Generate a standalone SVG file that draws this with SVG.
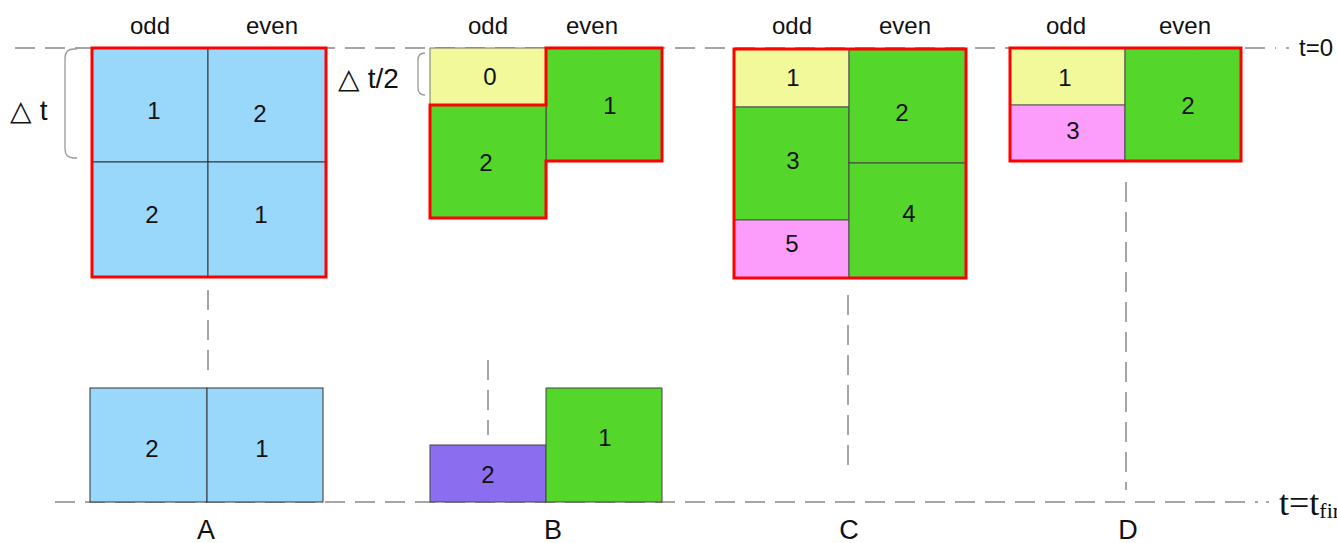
<svg xmlns="http://www.w3.org/2000/svg" width="1337" height="543" viewBox="0 0 1337 543">
  <style>
    .lbl { font-family: "Liberation Sans", Arial, sans-serif; font-size: 24px; fill: #111; text-anchor: middle; }
    .hdr { font-family: "Liberation Sans", Arial, sans-serif; font-size: 24px; fill: #111; text-anchor: middle; }
    .cap { font-family: "Liberation Sans", Arial, sans-serif; font-size: 27px; fill: #111; text-anchor: middle; }
    .blue { fill: #99d7fb; stroke: #333; stroke-width: 1; }
    .green { fill: #55d62a; stroke: #444; stroke-width: 1; }
    .yellow { fill: #f2f99b; stroke: #777; stroke-width: 1; }
    .pink { fill: #fd9dfb; stroke: #555; stroke-width: 1; }
    .purple { fill: #8b6def; stroke: #444; stroke-width: 1; }
    .outline { fill: none; stroke: #ff0000; stroke-width: 3; stroke-linejoin: miter; }
    .dash { fill: none; stroke: #888; stroke-width: 1.5; stroke-dasharray: 20 10; }
    .vdash { fill: none; stroke: #777; stroke-width: 1.3; stroke-dasharray: 20 10; }
    .brace { fill: none; stroke: #999; stroke-width: 1.3; }
  </style>

  <!-- time axis lines -->
  <g id="connectors">
    <line class="dash" x1="15" y1="48" x2="1276" y2="48"/>
    <line class="dash" x1="1286" y1="48" x2="1289" y2="48"/>
    <line class="dash" x1="55" y1="502" x2="1258" y2="502"/>
    <line class="dash" x1="1266" y1="502" x2="1269" y2="502"/>
    <line class="vdash" x1="208" y1="290" x2="208" y2="372"/>
    <line class="vdash" x1="488" y1="360" x2="488" y2="435"/>
    <line class="vdash" x1="848" y1="295" x2="848" y2="470"/>
    <line class="vdash" x1="1126" y1="182" x2="1126" y2="490"/>
  </g>

  <text x="1299" y="56" font-family="Liberation Sans, Arial, sans-serif" font-size="24" fill="#111">t=0</text>
  <text x="1279" y="515" font-family="Liberation Serif, Times New Roman, serif" font-size="36" fill="#111">t=t<tspan font-size="22" dy="3">fin</tspan></text>

  <!-- column A -->
  <g id="A">
    <text class="hdr" x="150" y="34">odd</text>
    <text class="hdr" x="272" y="34">even</text>
    <path class="brace" d="M77,49 H74 Q65,49 65,58 V149 Q65,158 74,158 H77"/>
    <text x="10" y="120" font-family="Liberation Sans, Arial, sans-serif" font-size="28" fill="#111">△ t</text>
    <rect class="blue" x="92" y="48" width="116" height="114"/>
    <rect class="blue" x="208" y="48" width="118" height="114"/>
    <rect class="blue" x="92" y="162" width="116" height="115"/>
    <rect class="blue" x="208" y="162" width="118" height="115"/>
    <rect class="outline" x="92" y="48" width="234" height="229"/>
    <text class="lbl" x="154" y="119">1</text>
    <text class="lbl" x="260" y="122">2</text>
    <text class="lbl" x="152" y="223">2</text>
    <text class="lbl" x="261" y="223">1</text>
  </g>
  <g id="A-final">
    <rect class="blue" x="90" y="388" width="117" height="114"/>
    <rect class="blue" x="207" y="388" width="116" height="114"/>
    <text class="lbl" x="152" y="457">2</text>
    <text class="lbl" x="262" y="457">1</text>
    <text class="cap" x="206" y="539">A</text>
  </g>

  <!-- column B -->
  <g id="B">
    <text class="hdr" x="488" y="34">odd</text>
    <text class="hdr" x="592" y="34">even</text>
    <path class="brace" d="M425,53 Q418,53 418,60 V88 Q418,95 425,95"/>
    <text x="338" y="88" font-family="Liberation Sans, Arial, sans-serif" font-size="28" fill="#111">△ t/2</text>
    <rect class="yellow" x="430" y="48" width="116" height="57"/>
    <rect class="green" x="546" y="48" width="116" height="113"/>
    <rect class="green" x="430" y="105" width="116" height="113"/>
    <path class="outline" d="M430,105 H546 V48 H662 V161 H546 V218 H430 Z"/>
    <text class="lbl" x="490" y="85">0</text>
    <text class="lbl" x="610" y="114">1</text>
    <text class="lbl" x="486" y="171">2</text>
  </g>
  <g id="B-final">
    <rect class="purple" x="430" y="445" width="116" height="57"/>
    <rect class="green" x="546" y="388" width="116" height="114"/>
    <text class="lbl" x="488" y="483">2</text>
    <text class="lbl" x="605" y="446">1</text>
    <text class="cap" x="553" y="539">B</text>
  </g>

  <!-- column C -->
  <g id="C">
    <text class="hdr" x="792" y="34">odd</text>
    <text class="hdr" x="905" y="34">even</text>
    <rect class="yellow" x="734" y="49" width="115" height="58"/>
    <rect class="green" x="734" y="107" width="115" height="113"/>
    <rect class="pink" x="734" y="220" width="115" height="58"/>
    <rect class="green" x="849" y="49" width="117" height="114"/>
    <rect class="green" x="849" y="163" width="117" height="115"/>
    <rect class="outline" x="734" y="49" width="232" height="229"/>
    <text class="lbl" x="793" y="86">1</text>
    <text class="lbl" x="902" y="121">2</text>
    <text class="lbl" x="793" y="169">3</text>
    <text class="lbl" x="909" y="222">4</text>
    <text class="lbl" x="792" y="252">5</text>
    <text class="cap" x="849" y="539">C</text>
  </g>

  <!-- column D -->
  <g id="D">
    <text class="hdr" x="1066" y="34">odd</text>
    <text class="hdr" x="1185" y="34">even</text>
    <rect class="yellow" x="1010" y="48" width="115" height="57"/>
    <rect class="pink" x="1010" y="105" width="115" height="56"/>
    <rect class="green" x="1125" y="48" width="116" height="113"/>
    <rect class="outline" x="1010" y="48" width="231" height="113"/>
    <text class="lbl" x="1065" y="86">1</text>
    <text class="lbl" x="1073" y="139">3</text>
    <text class="lbl" x="1188" y="114">2</text>
    <text class="cap" x="1128" y="539">D</text>
  </g>
</svg>
